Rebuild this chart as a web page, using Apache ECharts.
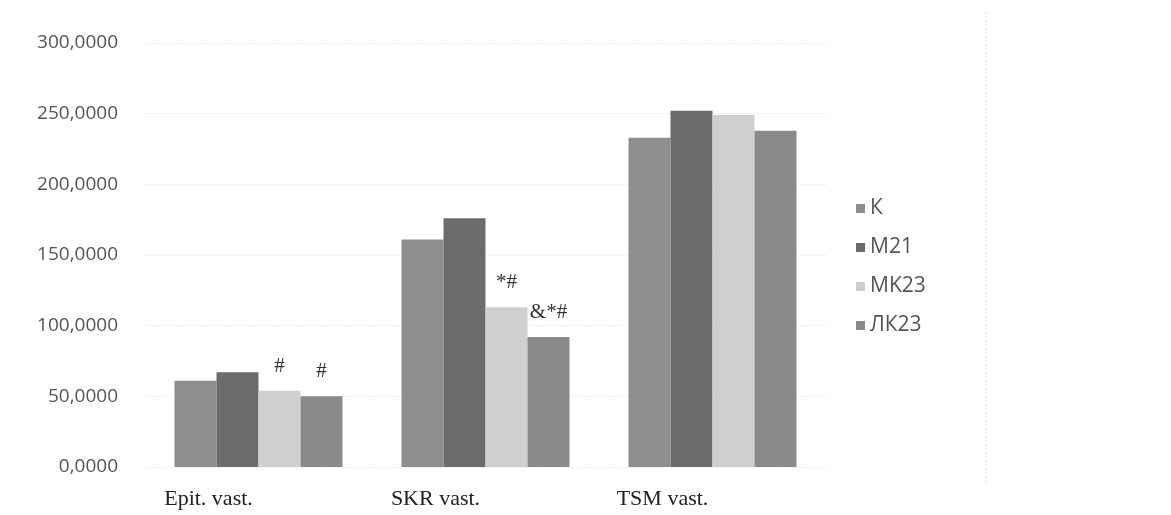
<!DOCTYPE html>
<html>
<head>
<meta charset="utf-8">
<script src="https://cdn.jsdelivr.net/npm/echarts@6/dist/echarts.min.js"></script>
<style>html,body{margin:0;padding:0;background:#fff;}#c{width:1171px;height:515px;}</style>
</head>
<body>
<div id="c"></div>
<script>
const categories = ['Epit. vast.', 'SKR vast.', 'TSM vast.'];
const seriesNames = ['К', 'M21', 'MK23', 'ЛК23'];
const valuesK = [61, 161, 233];
const valuesM21 = [67, 176, 252];
const valuesMK23 = [54, 113, 249];
const valuesLK23 = [50, 92, 238];
const notesK = ['', '', ''];
const notesM21 = ['', '', ''];
const notesMK23 = ['#', '*#', ''];
const notesLK23 = ['#', '&*#', ''];
const yTicks = [0, 50, 100, 150, 200, 250, 300];

const colors = ['#8e8e8e', '#6c6c6c', '#cfcfcf', '#8a8a8a'];
const allValues = [valuesK, valuesM21, valuesMK23, valuesLK23];
const allNotes = [notesK, notesM21, notesMK23, notesLK23];

const chart = echarts.init(document.getElementById('c'));
chart.setOption({
  backgroundColor: '#ffffff',
  animation: false,
  color: colors,
  grid: { left: 145, right: 345, top: 43, bottom: 48 },
  legend: {
    orient: 'vertical',
    left: 851, top: 191,
    itemWidth: 9, itemHeight: 9, itemGap: 14,
    icon: 'rect',
    textStyle: { fontFamily: 'Open Sans', fontSize: 21, color: '#555', lineHeight: 25 },
    data: seriesNames
  },
  xAxis: {
    type: 'category',
    data: categories,
    axisLine: { show: false },
    axisTick: { show: false },
    axisLabel: {
      fontFamily: 'Liberation Serif', fontSize: 22, color: '#222',
      margin: 21, padding: [0, 100, 0, 0]
    }
  },
  yAxis: {
    type: 'value',
    min: 0, max: 300, interval: 50,
    axisLine: { show: false },
    axisTick: { show: false },
    splitLine: { lineStyle: { color: '#eeeeee', type: 'dashed' } },
    axisLabel: {
      fontFamily: 'Open Sans', fontSize: 19, color: '#555', margin: 27,
      formatter: v => yTicks.includes(v) ? v.toFixed(4).replace('.', ',') : ''
    }
  },
  graphic: [{
    type: 'line', shape: { x1: 986, y1: 12, x2: 986, y2: 485 },
    style: { stroke: '#d8d8d8', lineWidth: 1, lineDash: [2, 2] }
  }],
  series: seriesNames.map((n, i) => ({
    name: n,
    type: 'bar',
    data: allValues[i],
    barGap: '0%',
    barCategoryGap: '26%',
    itemStyle: { color: colors[i] },
    label: {
      show: true, position: 'top', distance: 14,
      fontFamily: 'Liberation Serif', fontSize: 21, color: '#333',
      formatter: p => allNotes[i][p.dataIndex]
    }
  }))
});
</script>
</body>
</html>
